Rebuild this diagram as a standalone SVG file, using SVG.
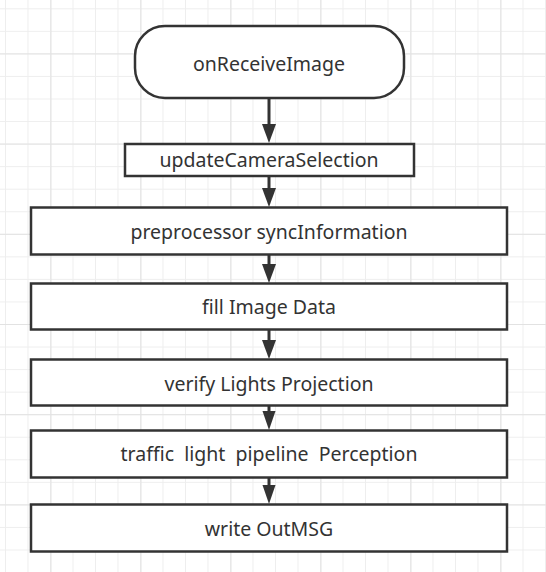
<svg xmlns="http://www.w3.org/2000/svg" width="546" height="572" viewBox="0 0 546 572">
<defs>
<pattern id="minor" x="5" y="8.3" width="22.5" height="22.55" patternUnits="userSpaceOnUse">
<path d="M0.5 0V22.55M0 0.5H22.5" fill="none" stroke="#eeeeee" stroke-width="1"/>
</pattern>
<pattern id="major" x="50.5" y="53.4" width="90" height="90.2" patternUnits="userSpaceOnUse">
<path d="M0.5 0V90.2M0 0.5H90" fill="none" stroke="#e2e2e2" stroke-width="1"/>
</pattern>
<style>
.box{fill:#fff;stroke:#333;stroke-width:2.5}
.lbl{font-family:"Noto Sans","Open Sans",sans-serif;font-size:19.5px;fill:#333;text-anchor:middle}
.conn{stroke:#333;stroke-width:3;fill:none}
.head{fill:#333}
</style>
</defs>
<rect width="546" height="572" fill="#fff"/>
<rect width="546" height="572" fill="url(#minor)"/>
<rect width="546" height="572" fill="url(#major)"/>
<g id="connectors">
<path class="conn" d="M269 99V125"/>
<path class="head" d="M262 124L269 143L276 124Z"/>
<path class="conn" d="M269 177V189"/>
<path class="head" d="M262 188L269 207L276 188Z"/>
<path class="conn" d="M269 255V265"/>
<path class="head" d="M262 264L269 283L276 264Z"/>
<path class="conn" d="M269 330V341"/>
<path class="head" d="M262 340L269 359L276 340Z"/>
<path class="conn" d="M269 406V412"/>
<path class="head" d="M262.5 411L269 430L275.5 411Z"/>
<path class="conn" d="M269 478V486"/>
<path class="head" d="M262.5 485L269 504L275.5 485Z"/>
</g>
<g id="onReceiveImage">
<rect class="box" x="135" y="26" width="269" height="72" rx="30" ry="30"/>
<text class="lbl" x="269" y="71">onReceiveImage</text>
</g>
<g id="updateCameraSelection">
<rect class="box" x="125" y="144" width="289" height="32"/>
<text class="lbl" x="269" y="167">updateCameraSelection</text>
</g>
<g id="preprocessor">
<rect class="box" x="31" y="207.5" width="476" height="47"/>
<text class="lbl" x="269" y="239">preprocessor syncInformation</text>
</g>
<g id="fillImageData">
<rect class="box" x="31" y="283.5" width="476" height="46"/>
<text class="lbl" x="269" y="314">fill Image Data</text>
</g>
<g id="verifyLights">
<rect class="box" x="31" y="359.5" width="476" height="46"/>
<text class="lbl" x="269" y="390.5">verify Lights Projection</text>
</g>
<g id="trafficLight">
<rect class="box" x="31" y="430.5" width="476" height="47"/>
<text class="lbl" x="269" y="460.5" xml:space="preserve">traffic  light  pipeline  Perception</text>
</g>
<g id="writeOutMSG">
<rect class="box" x="31" y="504.5" width="476" height="47"/>
<text class="lbl" x="269" y="535.5">write OutMSG</text>
</g>
</svg>
